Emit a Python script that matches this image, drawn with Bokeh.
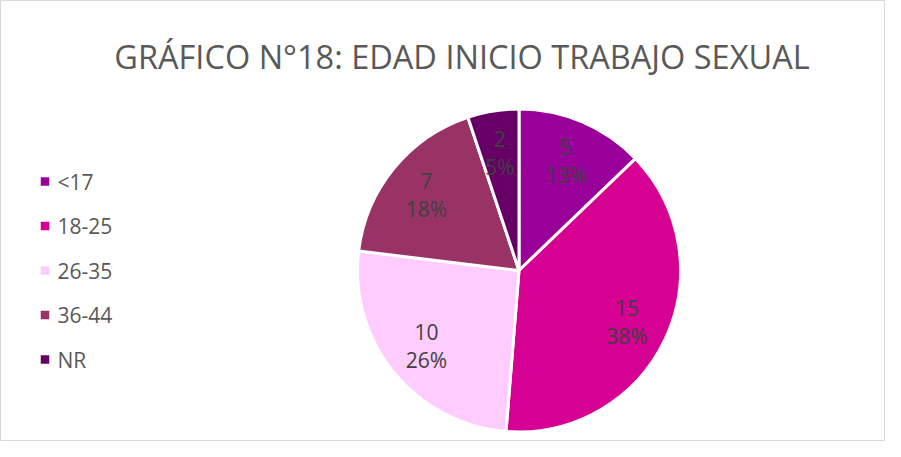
import math
from bokeh.plotting import figure
from bokeh.models import Range1d, Label, ColumnDataSource
from bokeh.embed import file_html
from bokeh.resources import INLINE
from bokeh.core.properties import value

# ---- data ----
categories = ["<17", "18-25", "26-35", "36-44", "NR"]
counts = [5, 15, 10, 7, 2]
colors = ["#990099", "#D60093", "#FFCCFF", "#993366", "#660066"]
title_text = "GRÁFICO N°18: EDAD INICIO TRABAJO SEXUAL"

# ---- layout constants ----
W, H = 885, 441
CX, CY, R = 518.5, 171.0, 161.5
LABEL_R = 0.74 * R

total = sum(counts)
starts, ends, lx, ly, ltext = [], [], [], [], []
cum = 0
for c in counts:
    a0 = math.pi / 2 - 2 * math.pi * cum / total
    cum += c
    a1 = math.pi / 2 - 2 * math.pi * cum / total
    starts.append(a0)
    ends.append(a1)
    mid = (a0 + a1) / 2
    lx.append(CX + LABEL_R * math.cos(mid))
    ly.append(CY + LABEL_R * math.sin(mid))
    ltext.append(f"{c}\n{round(100 * c / total)}%")

src = ColumnDataSource(dict(cat=categories, val=counts, color=colors,
                            start=starts, end=ends, lx=lx, ly=ly, lt=ltext))

p = figure(width=W, height=H, x_range=Range1d(0, W), y_range=Range1d(0, H),
           output_backend="svg", toolbar_location=None, min_border=0,
           x_axis_location=None, y_axis_location=None)
p.grid.visible = False
p.outline_line_color = "#D9D9D9"
p.outline_line_width = 1
p.background_fill_color = "white"
p.border_fill_color = "white"

p.wedge(x=CX, y=CY, radius=R, start_angle="start", end_angle="end",
        direction="clock", fill_color="color", line_color="white",
        line_width=3, source=src)

p.text(x="lx", y="ly", text="lt", source=src, text_align="center",
       text_baseline="middle", text_font=value("Open Sans"),
       text_font_size="21px", text_color="#404040", text_line_height=1.0)

# legend (manual)
LEG_Y0, LEG_DY = 260.0, 44.5
leg_y = [LEG_Y0 - i * LEG_DY for i in range(len(categories))]
leg_src = ColumnDataSource(dict(y=leg_y, cat=categories, color=colors))
p.scatter(x=44.5, y="y", marker="square", size=8.5, fill_color="color",
          line_color=None, source=leg_src)
p.text(x=57, y="y", text="cat", source=leg_src, text_align="left",
       text_baseline="middle", text_font=value("Open Sans"),
       text_font_size="21px", text_color="#595959")

p.add_layout(Label(x=461.5, y=385, text=title_text, text_align="center",
                   text_baseline="middle", text_font="Open Sans",
                   text_font_size="32.5px", text_color="#595959"))

open("out.html", "w").write(file_html(p, INLINE))
